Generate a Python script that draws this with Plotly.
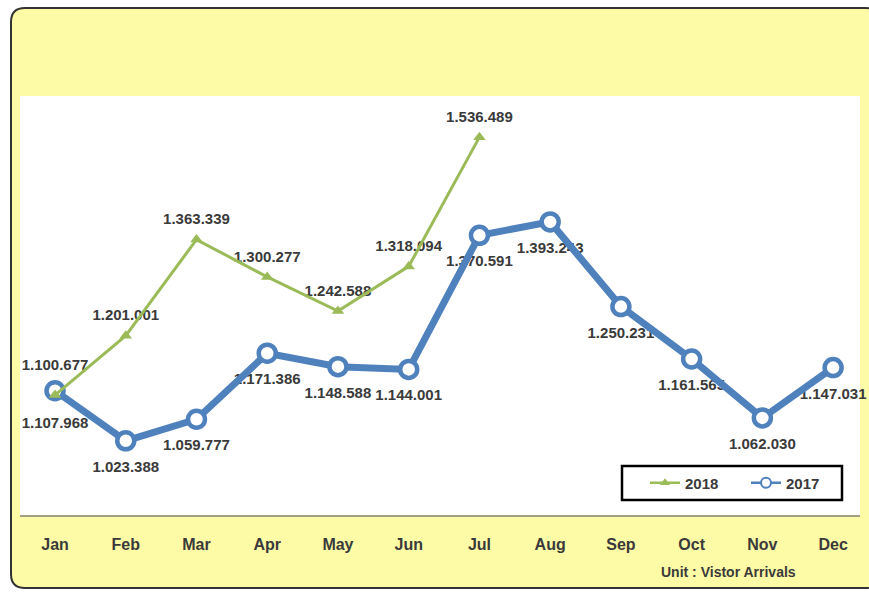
import plotly.graph_objects as go

months = ["Jan", "Feb", "Mar", "Apr", "May", "Jun", "Jul", "Aug", "Sep", "Oct", "Nov", "Dec"]
arrivals_2017 = [1107968, 1023388, 1059777, 1171386, 1148588, 1144001,
                 1370591, 1393243, 1250231, 1161565, 1062030, 1147031]
arrivals_2018 = [1100677, 1201001, 1363339, 1300277, 1242588, 1318094, 1536489]


def fmt(v):
    return f"{v:,}".replace(",", ".")


W, H = 869, 592
ML, MR, MT, MB = 20, 9, 96, 77
PW, PH = W - ML - MR, H - MT - MB


def px(x):
    return (x - ML) / PW


def py(y):
    return (H - MB - y) / PH


BLUE = "#4F81BD"
GREEN = "#9BBB59"
TXT = "#3A3A3A"
FONT = "Arial, Liberation Sans"
LABEL_FONT = dict(family=FONT, size=15, color=TXT, weight="bold")

fig = go.Figure()

# data labels (drawn first so the lines pass over them, as in the original)
n17, n18 = len(arrivals_2017), len(arrivals_2018)
fig.add_trace(go.Scatter(
    x=months, y=arrivals_2017, mode="markers+text",
    marker=dict(size=[40] + [30] * (n17 - 1), color="rgba(0,0,0,0)", opacity=0),
    text=[fmt(v) for v in arrivals_2017], textposition="bottom center",
    textfont=LABEL_FONT, showlegend=False, hoverinfo="skip", cliponaxis=False,
))
fig.add_trace(go.Scatter(
    x=months[:n18], y=arrivals_2018, mode="markers+text",
    marker=dict(size=[32] + [17] * (n18 - 1), color="rgba(0,0,0,0)", opacity=0),
    text=[fmt(v) for v in arrivals_2018], textposition="top center",
    textfont=LABEL_FONT, showlegend=False, hoverinfo="skip", cliponaxis=False,
))

fig.add_trace(go.Scatter(
    x=months, y=arrivals_2017, name="2017", mode="lines+markers",
    line=dict(color=BLUE, width=7),
    marker=dict(symbol="circle", size=17, color="white", line=dict(color=BLUE, width=4.5)),
    showlegend=False, cliponaxis=False,
))
fig.add_trace(go.Scatter(
    x=months[:n18], y=arrivals_2018, name="2018", mode="lines+markers",
    line=dict(color=GREEN, width=3),
    marker=dict(symbol="triangle-up", size=11, color=GREEN),
    showlegend=False, cliponaxis=False,
))
# legend entries (thin versions as in the original legend)
fig.add_trace(go.Scatter(
    x=[None], y=[None], name="2018", mode="lines+markers",
    line=dict(color=GREEN, width=2.5),
    marker=dict(symbol="triangle-up", size=9, color=GREEN), legendrank=1,
))
fig.add_trace(go.Scatter(
    x=[None], y=[None], name="2017", mode="lines+markers",
    line=dict(color=BLUE, width=2.5),
    marker=dict(symbol="circle", size=10, color="white", line=dict(color=BLUE, width=2)),
    legendrank=2,
))

# outer rounded yellow frame
x0, y0, x1, y1, r = 11, 8, 880, 588, 14
path = (f"M {px(x0+r)},{py(y0)} L {px(x1-r)},{py(y0)} Q {px(x1)},{py(y0)} {px(x1)},{py(y0+r)} "
        f"L {px(x1)},{py(y1-r)} Q {px(x1)},{py(y1)} {px(x1-r)},{py(y1)} "
        f"L {px(x0+r)},{py(y1)} Q {px(x0)},{py(y1)} {px(x0)},{py(y1-r)} "
        f"L {px(x0)},{py(y0+r)} Q {px(x0)},{py(y0)} {px(x0+r)},{py(y0)} Z")

fig.update_layout(
    width=W, height=H,
    margin=dict(l=ML, r=MR, t=MT, b=MB),
    paper_bgcolor="white", plot_bgcolor="rgba(0,0,0,0)",
    showlegend=True,
    legend=dict(orientation="h", x=px(645), y=py(483), xanchor="left", yanchor="middle",
                bgcolor="rgba(0,0,0,0)", borderwidth=0,
                font=dict(family=FONT, size=15, color=TXT, weight="bold"),
                entrywidth=56, itemwidth=30),
    shapes=[
        dict(type="path", xref="paper", yref="paper", path=path, layer="below",
             fillcolor="#FEFBA6", line=dict(color="#333333", width=2)),
        dict(type="rect", xref="paper", yref="paper", x0=0, x1=px(860), y0=0, y1=1,
             layer="below", fillcolor="white", line=dict(width=0)),
        dict(type="rect", xref="paper", yref="paper", x0=px(622), x1=px(842), y0=py(500), y1=py(466),
             layer="below", fillcolor="white", line=dict(color="black", width=2.5)),
    ],
    annotations=[dict(text="Unit : Vistor Arrivals", xref="paper", yref="paper",
                      x=px(728), y=py(572), showarrow=False,
                      xanchor="center", yanchor="middle",
                      font=dict(family=FONT, size=14, color=TXT, weight="bold"))],
)

fig.update_xaxes(type="category", range=[-0.495, 11.38], showgrid=False, zeroline=False,
                 showline=True, linecolor="#A09E86", linewidth=2, ticks="",
                 ticklabelstandoff=14,
                 tickfont=dict(family=FONT, size=16, color=TXT, weight="bold"))
fig.update_yaxes(range=[898000, 1606000], visible=False, showgrid=False, zeroline=False)

fig.write_html("out.html", config={"displayModeBar": False},
               post_script="document.body.style.margin='0';")
